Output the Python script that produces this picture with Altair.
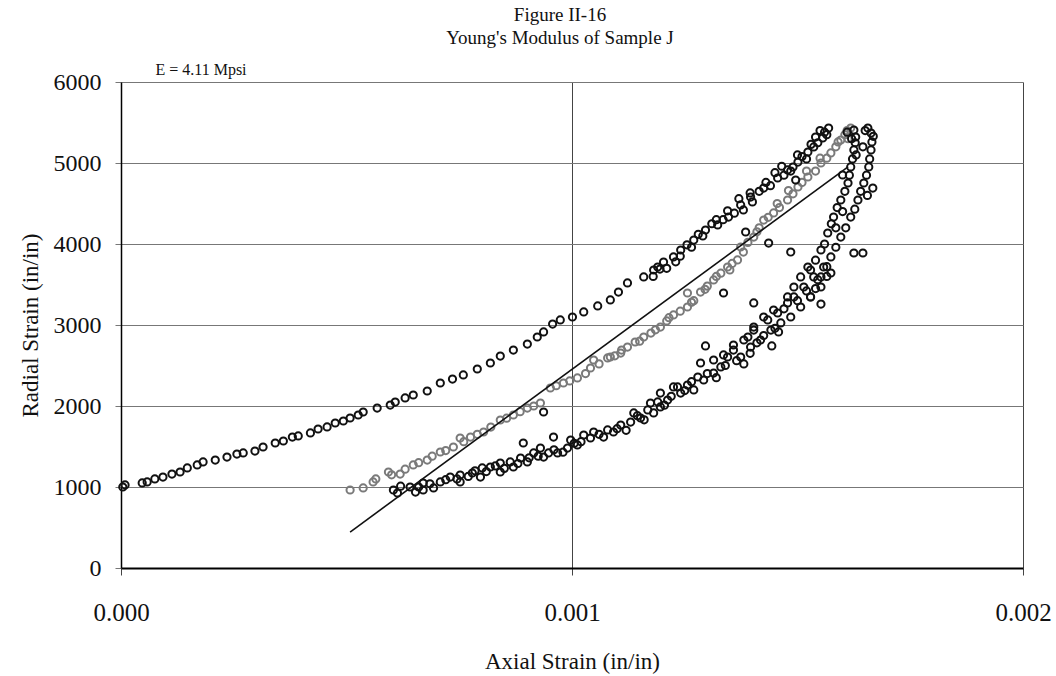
import altair as alt
import pandas as pd

# ---- data (axial strain in microstrain, radial strain) ----
# loading branch (upper, black)
up_x = [4, 9, 47, 58, 75, 93, 113, 131, 147, 169, 182, 209, 235, 257, 271, 297, 315, 342, 360, 380,
        393, 420, 437, 457, 475, 493, 508, 526, 537, 568, 597, 608, 630, 648, 679, 708, 735, 759, 790,
        819, 841, 870, 901, 923, 937, 957, 974, 1001, 1026, 1057, 1085, 1103, 1123, 1159, 1181, 1190,
        1203, 1225, 1241, 1270, 1296, 1323, 1347, 1374, 1396, 1425, 1456, 1478, 1501, 1523, 1536, 1556,
        1569, 1210, 1240, 1265, 1290, 1310, 1335, 1360, 1380, 1400, 1415, 1440, 1450, 1470, 1490, 1510,
        1520, 1530, 1545, 1560, 1550,
        1180, 1195, 1230, 1255, 1280, 1320, 1345, 1370, 1395, 1430, 1465, 1485, 1500, 1540, 1565]
up_y = [1000, 1025, 1050, 1062, 1099, 1123, 1160, 1185, 1235, 1272, 1309, 1333, 1370, 1407, 1420, 1444,
        1494, 1543, 1568, 1617, 1630, 1667, 1716, 1741, 1790, 1815, 1852, 1889, 1926, 1975, 2012, 2049,
        2099, 2136, 2185, 2284, 2333, 2383, 2457, 2531, 2617, 2691, 2765, 2852, 2914, 3012, 3062, 3099,
        3161, 3235, 3309, 3407, 3519, 3593, 3679, 3716, 3778, 3840, 3926, 4049, 4173, 4235, 4333, 4482,
        4580, 4691, 4815, 4914, 5012, 5136, 5198, 5309, 5432, 3700, 3850, 3960, 4100, 4250, 4300, 4380,
        4420, 4520, 4650, 4720, 4880, 4850, 4950, 5080, 5050, 5230, 5250, 5380, 5400,
        3600, 3690, 3780, 3990, 4120, 4300, 4410, 4560, 4630, 4760, 4960, 4900, 5100, 5320, 5350]

# middle series (grey)
mid_x = [508, 537, 559, 593, 619, 648, 679, 708, 737, 752, 775, 804, 841, 870, 901, 930, 952, 981,
         1012, 1041, 1048, 1079, 1085, 1108, 1123, 1159, 1196, 1225, 1256, 1256, 1285, 1314, 1345, 1367,
         1374, 1403, 1425, 1447, 1478, 1501, 1523, 1552, 1574, 1596, 1618, 565, 600, 630, 660, 690, 720,
         760, 790, 820, 855, 885, 915, 965, 995, 1030, 1060, 1095, 1140, 1175, 1210, 1240, 1270, 1300,
         1330, 1355, 1390, 1415, 1435, 1460, 1490, 1510, 1540, 1565, 1585, 1605,
         1110, 1150, 1185, 1215, 1265, 1295, 1320, 1350, 1380, 1410, 1455, 1480, 1520, 1550, 1590, 1610,
         1612]
mid_y = [963, 988, 1062, 1185, 1160, 1272, 1333, 1432, 1494, 1605, 1617, 1679, 1827, 1889, 1975, 2037,
         2222, 2284, 2346, 2469, 2568, 2593, 2605, 2654, 2728, 2852, 2975, 3124, 3222, 3395, 3407, 3556,
         3716, 3803, 3963, 4086, 4296, 4383, 4543, 4704, 4827, 5000, 5124, 5284, 5432, 1100, 1150, 1220,
         1300, 1380, 1450, 1560, 1650, 1740, 1850, 1930, 2000, 2250, 2310, 2400, 2520, 2620, 2790, 2900,
         3050, 3170, 3300, 3480, 3640, 3760, 4020, 4200, 4330, 4450, 4620, 4760, 4900, 5060, 5200, 5350,
         2690, 2800, 2940, 3090, 3280, 3440, 3600, 3680, 3900, 4150, 4500, 4660, 4900, 5060, 5260, 5400,
         5300]

# unloading branch (lower, black)
low_x = [604, 613, 641, 653, 670, 670, 693, 708, 730, 752, 752, 779, 797, 801, 819, 841, 841, 863, 870,
         886, 901, 915, 930, 937, 948, 968, 990, 997, 1012, 1026, 1041, 1048, 1070, 1079, 1092, 1108,
         1130, 1137, 1152, 1168, 1174, 1181, 1196, 1212, 1225, 1241, 1256, 1270, 1279, 1196, 1234, 1292,
         1314, 1330, 1345, 1358, 1374, 1381, 1396, 1403, 1418, 1434, 1441, 1456, 1463, 1478, 1485, 1492,
         1507, 1514, 1529, 1536, 1552, 1558, 1574, 1285, 1314, 1336, 1358, 1390, 1403, 1425, 1447, 1478,
         1492, 1507, 1523, 1529, 1552, 1567, 1580, 1596, 1612, 1618, 1625, 1629, 1625, 1529, 1552, 1574,
         1596, 1618, 1634, 1647, 1658, 1663, 1663, 1656, 1540, 1560, 1575, 1588, 1605, 1615, 1622, 1628,
         1620, 1610, 1630, 1600, 1585, 1540, 1565, 1585, 1607, 1627, 1640, 1653, 1660, 1665, 1668, 1650,
         1645, 1655, 892, 937, 959, 1296, 1336, 1403, 1443, 1381, 1552, 1458, 1385, 1436, 1485, 1625,
         1645, 1667, 1496, 1600,
         620, 660, 685, 720, 745, 770, 785, 810, 830, 850, 880, 905, 925, 960, 980, 1005, 1020, 1060,
         1100, 1120, 1145, 1160, 1190, 1205, 1220, 1250, 1265, 1300, 1320, 1340, 1365, 1395, 1410, 1425,
         1450, 1470, 1500, 1520, 1545, 1565]
low_y = [963, 926, 1000, 938, 1049, 963, 988, 1062, 1123, 1062, 1148, 1173, 1123, 1235, 1247, 1296,
         1185, 1309, 1247, 1358, 1309, 1420, 1481, 1370, 1420, 1420, 1481, 1580, 1519, 1642, 1605, 1679,
         1617, 1704, 1679, 1765, 1802, 1914, 1852, 1951, 2037, 1914, 1988, 2074, 2235, 2160, 2259, 2198,
         2358, 2160, 2235, 2321, 2407, 2482, 2605, 2691, 2605, 2815, 2728, 2938, 2815, 3062, 2938, 3148,
         3025, 3272, 3099, 3346, 3222, 3469, 3346, 3593, 3469, 3716, 3642, 2531, 2568, 2630, 2753, 2852,
         2975, 3099, 3185, 3346, 3469, 3593, 3716, 3679, 3926, 4136, 4333, 4543, 4753, 4951, 5161, 5321,
         5407, 3346, 3593, 3840, 4086, 4333, 4543, 4753, 4951, 5161, 5370, 5432, 3800, 4000, 4250, 4450,
         4650, 4850, 5050, 5250, 5300, 5380, 5100, 4400, 4200, 3450, 3720, 3960, 4200, 4430, 4650, 4850,
         5050, 5260, 5330, 5400, 5200, 4600, 1543, 1926, 1617, 2741, 3395, 3272, 2741, 2519, 3259, 2914,
         4148, 4012, 3901, 3889, 3889, 4691, 4790, 4852,
         1010, 1000, 1040, 1090, 1100, 1130, 1200, 1190, 1260, 1230, 1290, 1360, 1380, 1460, 1430, 1540,
         1560, 1650, 1720, 1700, 1880, 1830, 2050, 2010, 2120, 2190, 2300, 2400, 2350, 2500, 2560, 2650,
         2780, 2870, 2960, 3200, 3300, 3420, 3560, 3600]

# fitted modulus line
fit_x = [508, 1612]
fit_y = [444, 4951]

series_names = ["upper", "middle", "lower"]
series_colors = ["#111111", "#7a7a7a", "#111111"]

rows = []
for name, xs, ys in [("upper", up_x, up_y), ("middle", mid_x, mid_y), ("lower", low_x, low_y)]:
    for a, b in zip(xs, ys):
        rows.append({"series": name, "x": a / 1e6, "y": b})
pts = pd.DataFrame(rows)
fit = pd.DataFrame({"x": [v / 1e6 for v in fit_x], "y": fit_y})

FONT = "Liberation Serif"

xscale = alt.Scale(domain=[0, 0.002], nice=False, zero=False)
yscale = alt.Scale(domain=[0, 6000], nice=False)

xaxis = alt.Axis(title="Axial Strain (in/in)", values=[0, 0.001, 0.002], format=".3f",
                 grid=True, gridColor="#444444", gridWidth=1, labelFlush=False,
                 domainColor="#000000", domainWidth=2, tickColor="#444444", tickSize=7,
                 labelFont=FONT, labelFontSize=25, labelColor="#111111", labelPadding=25,
                 titleFont=FONT, titleFontSize=23, titleFontWeight="normal", titleColor="#111111",
                 titlePadding=25)
yaxis = alt.Axis(title="Radial Strain (in/in)", values=[0, 1000, 2000, 3000, 4000, 5000, 6000],
                 format="d",
                 grid=True, gridColor="#777777", gridWidth=1,
                 domainColor="#000000", domainWidth=1.5, tickColor="#777777", tickSize=6,
                 labelFont=FONT, labelFontSize=24, labelColor="#111111", labelPadding=14,
                 titleFont=FONT, titleFontSize=23, titleFontWeight="normal", titleColor="#111111",
                 titlePadding=11)

points = alt.Chart(pts).mark_point(shape="circle", filled=False, size=52, strokeWidth=2, opacity=1).encode(
    x=alt.X("x:Q", scale=xscale, axis=xaxis),
    y=alt.Y("y:Q", scale=yscale, axis=yaxis),
    color=alt.Color("series:N", scale=alt.Scale(domain=series_names, range=series_colors), legend=None),
)

line = alt.Chart(fit).mark_line(color="#111111", strokeWidth=1.6).encode(
    x=alt.X("x:Q", scale=xscale),
    y=alt.Y("y:Q", scale=yscale),
)

label = alt.Chart(pd.DataFrame({"t": ["E = 4.11 Mpsi"]})).mark_text(
    font=FONT, fontSize=16, color="#111111", align="center", baseline="middle"
).encode(text="t:N", x=alt.value(80), y=alt.value(-12))

chart = alt.layer(points, line, label).properties(
    width=902, height=486,
    title=alt.TitleParams(["Figure II-16", "Young's Modulus of Sample J"], font=FONT, fontSize=19,
                          fontWeight="normal", color="#111111", lineHeight=23, anchor="middle",
                          offset=14, dx=-12),
    autosize=alt.AutoSizeParams(type="none"),
    padding={"left": 121, "top": 82, "right": 33, "bottom": 108},
).configure_view(stroke="#999999", strokeWidth=1.5).configure(background="white")

chart.save("out.html", embed_options={"renderer": "svg", "actions": False})
